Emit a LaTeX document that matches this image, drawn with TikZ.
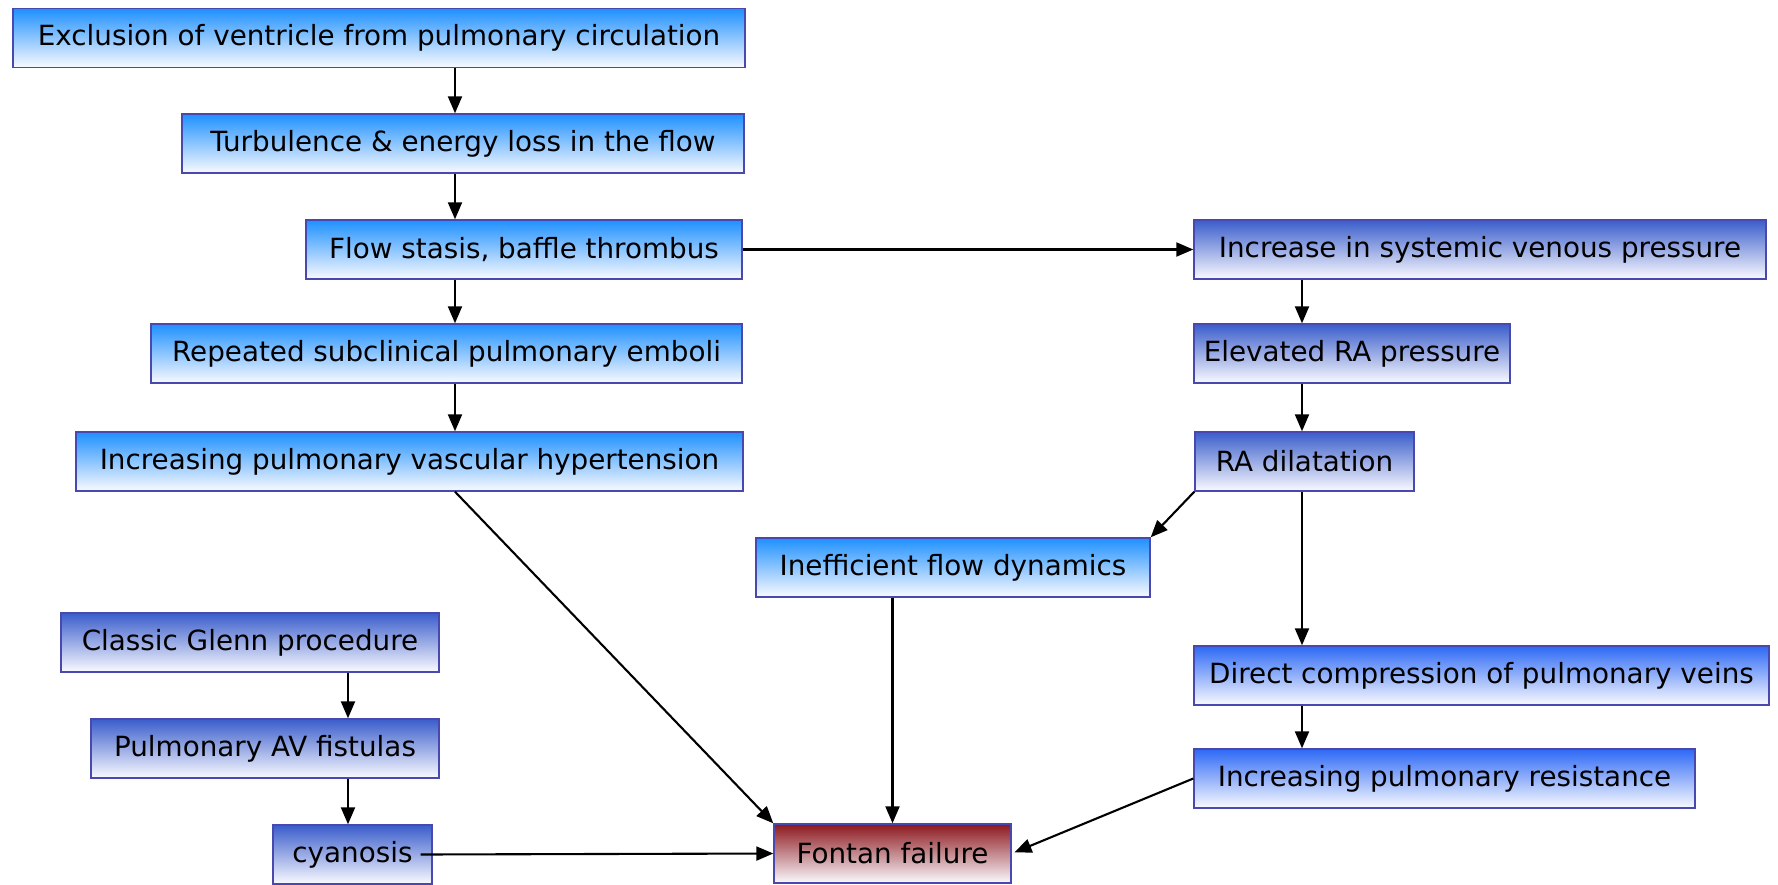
\documentclass[tikz,border=0pt]{standalone}
\usepackage{fontspec}
\setmainfont{DejaVu Sans}
\usetikzlibrary{arrows.meta}
\definecolor{skyfill}{RGB}{30,144,255}
\definecolor{royalfill}{RGB}{45,105,245}
\definecolor{slatefill}{RGB}{58,93,203}
\definecolor{redfill}{RGB}{140,25,30}
\definecolor{boxedge}{RGB}{72,72,175}
\definecolor{paleend}{RGB}{250,250,255}
\tikzset{
  flowbox/.style={rectangle, draw=boxedge, line width=1.4pt, inner sep=0pt,
    minimum height=59pt, top color=#1, middle color=#1!42!paleend, bottom color=paleend,
    font=\fontsize{27.8}{33}\selectfont, text=black},
  arr/.style={-{Triangle[length=17pt,width=14pt]}, line width=2.1pt, black}
}
\begin{document}
\begin{tikzpicture}[x=1pt,y=-1pt]
\useasboundingbox (0,0) rectangle (1778,884);
\fill[white] (0,0) rectangle (1778,884);

% left chain
\node[flowbox=skyfill, minimum width=732pt] (exc) at (379,38) {Exclusion of ventricle from pulmonary circulation};
\node[flowbox=skyfill, minimum width=562pt] (turb) at (463,143.5) {Turbulence \& energy loss in the flow};
\node[flowbox=skyfill, minimum width=436pt] (flow) at (524,249.5) {Flow stasis, baffle thrombus};
\node[flowbox=skyfill, minimum width=591pt] (rep) at (446.5,353.5) {Repeated subclinical pulmonary emboli};
\node[flowbox=skyfill, minimum width=667pt] (inc) at (409.5,461.5) {Increasing pulmonary vascular hypertension};

% right chain
\node[flowbox=slatefill, minimum width=572pt] (incsys) at (1480,249.5) {Increase in systemic venous pressure};
\node[flowbox=slatefill, minimum width=316pt] (elev) at (1352,353.5) {Elevated RA pressure};
\node[flowbox=slatefill, minimum width=219pt] (radil) at (1304.5,461.5) {RA dilatation};
\node[flowbox=skyfill, minimum width=394pt] (ineff) at (953,567.5) {Inefficient flow dynamics};
\node[flowbox=royalfill, minimum width=575pt] (direct) at (1481.5,675.5) {Direct compression of pulmonary veins};
\node[flowbox=royalfill, minimum width=501pt] (resist) at (1444.5,778.5) {Increasing pulmonary resistance};

% Glenn chain
\node[flowbox=slatefill, minimum width=378pt] (glenn) at (250,642.5) {Classic Glenn procedure};
\node[flowbox=slatefill, minimum width=348pt] (av) at (265,748.5) {Pulmonary AV fistulas};
\node[flowbox=slatefill, minimum width=159pt] (cyan) at (352.5,854.5) {cyanosis};

% outcome
\node[flowbox=redfill, minimum width=237pt] (fontan) at (892.5,853.5) {Fontan failure};

% column guides
\coordinate (lc) at (455,0);
\coordinate (rc) at (1302,0);
\coordinate (gc) at (348,0);

% connectors
\draw[arr] (exc.south -| lc) -- (turb.north -| lc);
\draw[arr] (turb.south -| lc) -- (flow.north -| lc);
\draw[arr] (flow.south -| lc) -- (rep.north -| lc);
\draw[arr] (rep.south -| lc) -- (inc.north -| lc);
\draw[arr] (flow.east) -- (incsys.west);
\draw[arr] (incsys.south -| rc) -- (elev.north -| rc);
\draw[arr] (elev.south -| rc) -- (radil.north -| rc);
\draw[arr] (radil.south west) -- (ineff.north east);
\draw[arr] (radil.south -| rc) -- (direct.north -| rc);
\draw[arr] (direct.south -| rc) -- (resist.north -| rc);
\draw[arr] (glenn.south -| gc) -- (av.north -| gc);
\draw[arr] (av.south -| gc) -- (cyan.north -| gc);
\draw[arr] (inc.south -| lc) -- (fontan.north west);
\draw[arr] (ineff.south -| fontan.north) -- (fontan.north);
\draw[arr, shorten >=3pt] (resist.west) -- (fontan.east);
\draw[arr] ([xshift=-12pt]cyan.east) -- (fontan.west);
\end{tikzpicture}
\end{document}
